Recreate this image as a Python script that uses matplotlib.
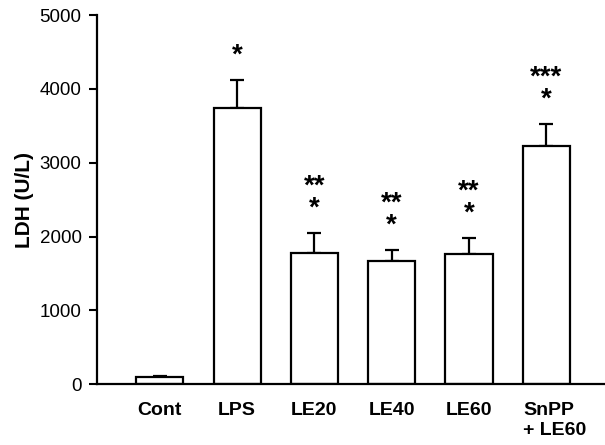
import matplotlib.pyplot as plt
import matplotlib.transforms as mtransforms
import numpy as np

plt.rcParams['font.family'] = ['Liberation Sans', 'DejaVu Sans']

groups = ['Cont', 'LPS', 'LE20', 'LE40', 'LE60', 'SnPP\n+ LE60']
ldh = [90, 3745, 1770, 1667, 1757, 3225]
sem = [20, 375, 280, 153, 221, 302]
# significance marks: upper line, lower line
marks_top = ['', '', '**', '**', '**', '***']
marks_low = ['', '*', '*', '*', '*', '*']

fig = plt.figure(figsize=(6.05, 4.45), dpi=100)
ax = fig.add_axes([0.160, 0.137, 0.840, 0.8288])

x = np.arange(len(groups))
ax.bar(x, ldh, width=0.61, color='white', edgecolor='black', linewidth=1.6, zorder=2)
ax.errorbar(x, ldh, yerr=[np.zeros(len(sem)), sem], fmt='none', ecolor='black',
            elinewidth=1.6, capsize=5, capthick=1.6, zorder=1)

for i in range(len(groups)):
    if not marks_low[i]:
        continue
    label = marks_low[i]
    if marks_top[i]:
        label = marks_top[i] + '\n' + marks_low[i]
    ax.text(x[i], ldh[i] + sem[i] + 150, label, ha='center', va='bottom',
            fontsize=20, fontweight='bold', linespacing=0.8)

ax.set_xlim(-0.815, 5.76)
ax.set_ylim(0, 5000)
ax.set_yticks(range(0, 5001, 1000))
ax.set_xticks(x)
ax.set_xticklabels(groups, fontweight='bold', fontsize=14, multialignment='left')
ax.tick_params(axis='x', length=0, pad=13)
ax.tick_params(axis='y', labelsize=13.5, width=1.5, length=6, direction='out', pad=5)
ax.set_ylabel('LDH (U/L)', fontweight='bold', fontsize=15, labelpad=4)

# last label sits a bit right of its bar in the original
lab = ax.get_xticklabels()[-1]
lab.set_transform(lab.get_transform() + mtransforms.ScaledTranslation(6 / 72, 0, fig.dpi_scale_trans))

ax.spines['top'].set_visible(False)
ax.spines['right'].set_visible(False)
ax.spines['left'].set_linewidth(1.6)
ax.spines['bottom'].set_linewidth(1.6)

fig.savefig('out.png', dpi=100)
